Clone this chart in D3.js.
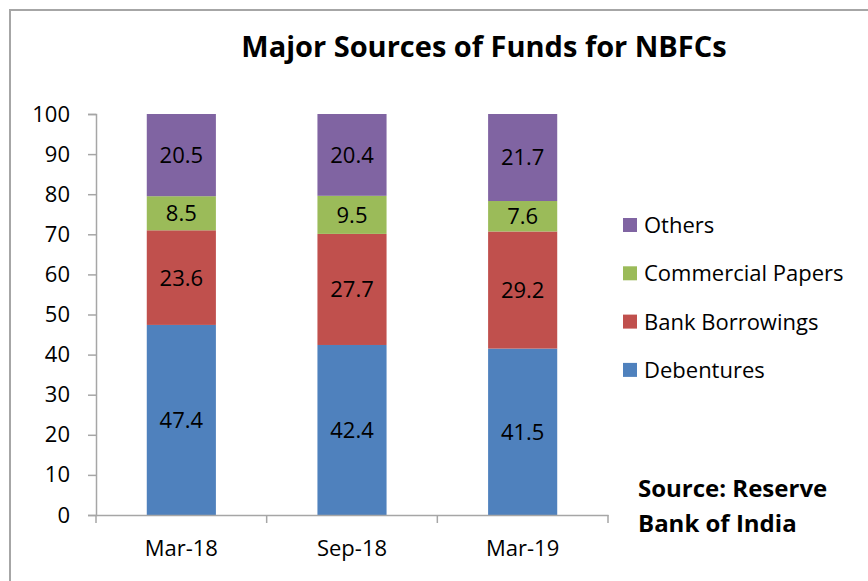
<!DOCTYPE html>
<html>
<head>
<meta charset="utf-8">
<script src="https://cdn.jsdelivr.net/npm/d3@7"></script>
<style>
html,body{margin:0;padding:0;background:#fff;}
svg{display:block;font-family:"Open Sans",Lato,sans-serif;}
</style>
</head>
<body>
<svg id="chart" width="868" height="581"></svg>
<script>
const categories = ["Mar-18", "Sep-18", "Mar-19"];
const seriesNames = ["Debentures", "Bank Borrowings", "Commercial Papers", "Others"];
const debentures = [47.4, 42.4, 41.5];
const bankBorrowings = [23.6, 27.7, 29.2];
const commercialPapers = [8.5, 9.5, 7.6];
const others = [20.5, 20.4, 21.7];
const yTicks = [0, 10, 20, 30, 40, 50, 60, 70, 80, 90, 100];
const colors = ["#4f81bd", "#c0504d", "#9bbb59", "#8064a2"];

(function () {
const FF = '"Open Sans",Lato,sans-serif';
const FS = 22;
const seriesValues = [debentures, bankBorrowings, commercialPapers, others];
const table = categories.map((c, i) => {
  const row = {cat: c};
  seriesNames.forEach((s, j) => row[s] = seriesValues[j][i]);
  return row;
});

const svg = d3.select("#chart");
const W = 868, H = 581;
const pLeft = 96, pRight = 608, pTop = 114, pBottom = 515;

// frame
svg.append("rect").attr("x", 10).attr("y", 10).attr("width", W + 20).attr("height", H + 20)
  .attr("fill", "none").attr("stroke", "#a6a6a6").attr("stroke-width", 2);

const x = d3.scaleBand().domain(categories).range([pLeft, pRight]).padding(0);
const y = d3.scaleLinear().domain([0, 100]).range([pBottom, pTop]);
const barW = x.bandwidth() * 0.405;

const stack = d3.stack().keys(seriesNames)(table);

const g = svg.append("g");
stack.forEach((layer, j) => {
  const lg = g.append("g");
  lg.selectAll("rect").data(layer).join("rect")
    .attr("x", d => x(d.data.cat) + x.bandwidth() / 2 - barW / 2)
    .attr("y", d => y(d[1]))
    .attr("width", barW)
    .attr("height", d => y(d[0]) - y(d[1]))
    .attr("fill", colors[j]);
  lg.selectAll("text").data(layer).join("text")
    .attr("x", d => x(d.data.cat) + x.bandwidth() / 2)
    .attr("y", d => (y(d[0]) + y(d[1])) / 2)
    .attr("dy", "0.36em")
    .attr("text-anchor", "middle")
    .attr("font-size", FS)
    .attr("fill", "#000")
    .text(d => d3.format(".1f")(d.data[layer.key]));
});

// y axis
const yAxis = d3.axisLeft(y).tickValues(yTicks).tickSize(8).tickPadding(18);
const ya = svg.append("g").attr("transform", `translate(${pLeft},0)`).call(yAxis);
ya.select(".domain").attr("stroke", "#a6a6a6").attr("stroke-width", 1.5);
ya.selectAll(".tick line").attr("stroke", "#a6a6a6").attr("stroke-width", 1.5);
ya.selectAll(".tick text").attr("font-size", FS).attr("fill", "#000").attr("font-family", FF);

// x axis
const xAxis = d3.axisBottom(x).tickSize(0).tickPadding(25);
const xa = svg.append("g").attr("transform", `translate(0,${pBottom})`).call(xAxis);
xa.select(".domain").attr("stroke", "#a6a6a6").attr("stroke-width", 1.5);
xa.selectAll(".tick text").attr("font-size", FS).attr("fill", "#000").attr("font-family", FF);
const bounds = categories.map(c => x(c)).concat([pRight]);
xa.selectAll(".bound").data(bounds).join("line")
  .attr("x1", d => d).attr("x2", d => d).attr("y1", 0).attr("y2", 8)
  .attr("stroke", "#a6a6a6").attr("stroke-width", 1.5);

// title
svg.append("text").attr("x", 484).attr("y", 57).attr("text-anchor", "middle")
  .attr("font-size", 29).attr("font-weight", "bold").attr("fill", "#000")
  .text("Major Sources of Funds for NBFCs");

// legend
const legendOrder = [3, 2, 1, 0];
const lgd = svg.append("g");
legendOrder.forEach((j, i) => {
  const cy = 225 + i * 48.3;
  lgd.append("rect").attr("x", 623).attr("y", cy - 7).attr("width", 14).attr("height", 14).attr("fill", colors[j]);
  lgd.append("text").attr("x", 644).attr("y", cy).attr("dy", "0.36em")
    .attr("font-size", FS).attr("fill", "#000").text(seriesNames[j]);
});

// source
svg.append("text").attr("x", 638).attr("y", 497).attr("font-size", 24).attr("font-weight", "bold").text("Source: Reserve");
svg.append("text").attr("x", 638).attr("y", 532).attr("font-size", 24).attr("font-weight", "bold").text("Bank of India");
})();
</script>
</body>
</html>
